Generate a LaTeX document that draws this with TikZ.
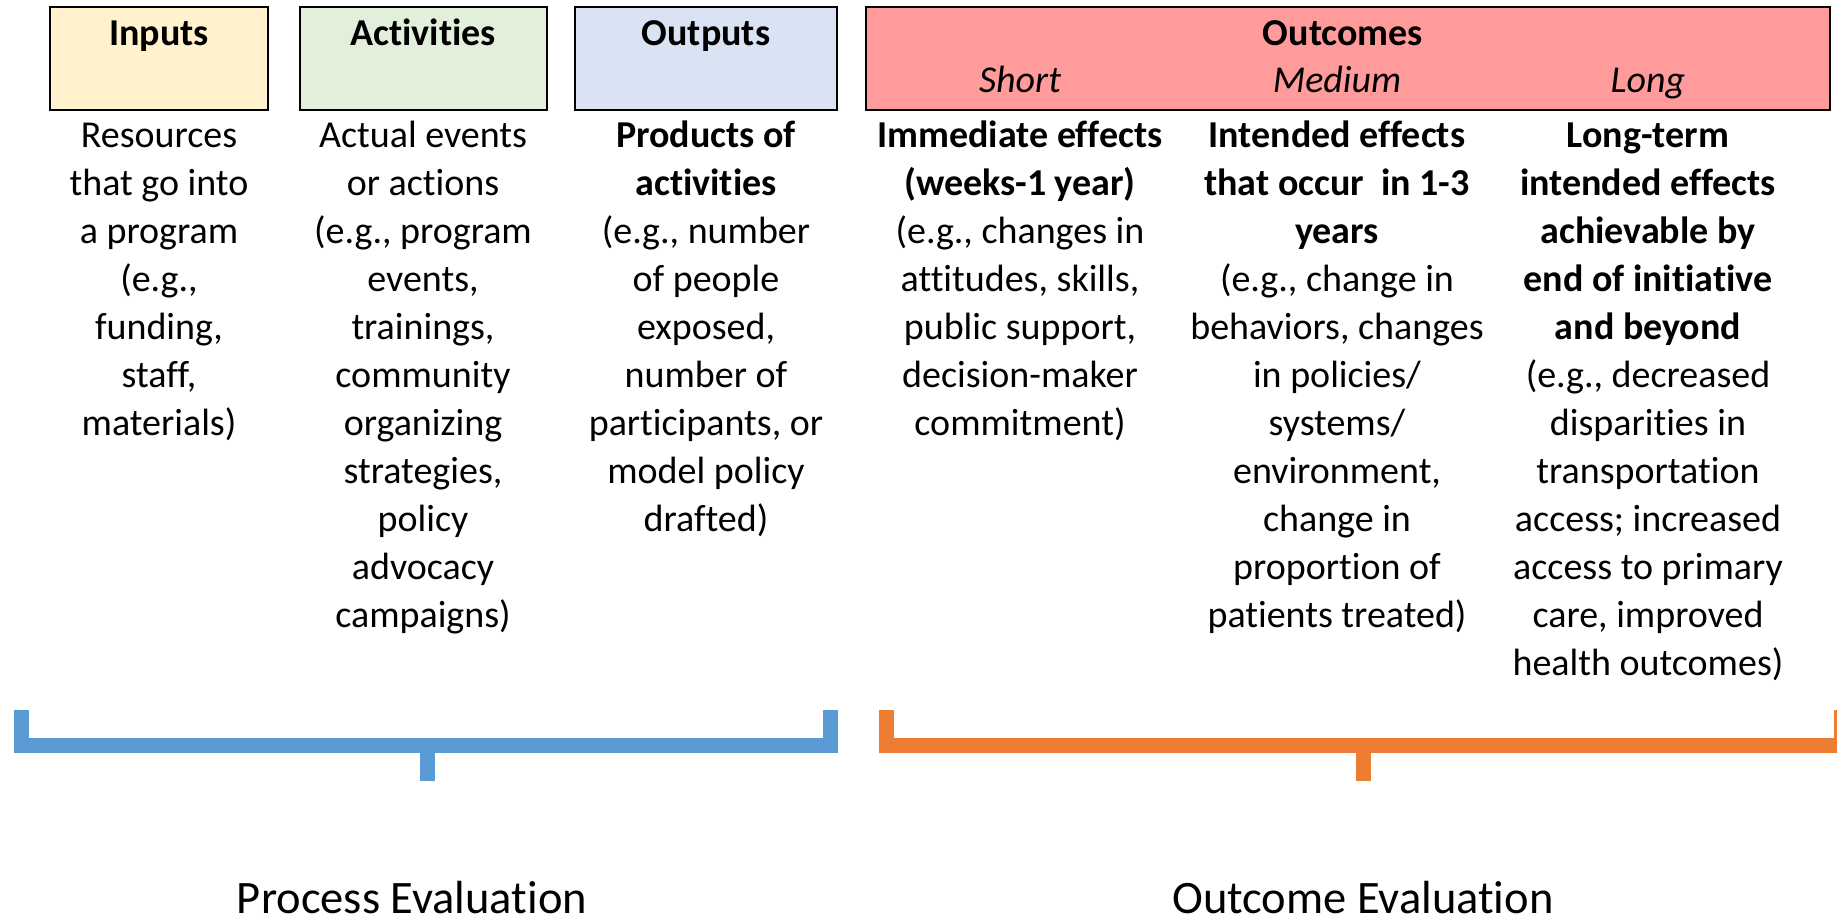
\documentclass[tikz,border=0pt]{standalone}
\usepackage{fontspec}
\setmainfont{Carlito}[Ligatures=NoCommon]
\definecolor{inYel}{HTML}{FFF2CC}
\definecolor{actGrn}{HTML}{E2EFDA}
\definecolor{outBlu}{HTML}{DAE3F3}
\definecolor{ocRed}{HTML}{FF9B9B}
\definecolor{brBlue}{HTML}{5B9BD5}
\definecolor{brOrange}{HTML}{ED7D31}
\newcommand\bodyfnt{\fontsize{38}{48}\selectfont}
\newcommand\evalfnt{\fontsize{46.5}{54}\selectfont}
\tikzset{
  hbox/.style={draw=black, line width=2pt},
  head/.style={font=\bodyfnt\bfseries, anchor=base, inner sep=0pt},
  sub/.style={font=\bodyfnt\itshape, anchor=base, inner sep=0pt},
  body/.style={font=\bodyfnt, align=center, anchor=north, inner sep=0pt},
  brace/.style={line width=15pt, miter limit=10},
  evallbl/.style={font=\evalfnt, anchor=base, inner sep=0pt}
}
\begin{document}
\begin{tikzpicture}[x=1pt,y=-1pt]
\useasboundingbox (0,0) rectangle (1837,919);
% header boxes
\filldraw[hbox, fill=inYel] (50,7) rectangle (268,110);
\filldraw[hbox, fill=actGrn] (300,7) rectangle (547,110);
\filldraw[hbox, fill=outBlu] (575,7) rectangle (837,110);
\filldraw[hbox, fill=ocRed] (866,7) rectangle (1830,110);
\node[head] (hin) at (159,45) {Inputs};
\node[head] (hact) at (423,45) {Activities};
\node[head] (hout) at (706,45) {Outputs};
\node[head] (hoc) at (1343,45) {Outcomes};
\node[sub] (sshort) at (1020,92) {Short};
\node[sub] (smed) at (1337,92) {Medium};
\node[sub] (slong) at (1648,92) {Long};
% body columns
\node[body] (bin) at (159,121) {Resources\vphantom{l}\\that go into\\a program\\(e.g.,\\funding,\\staff,\\materials)};
\node[body] (bact) at (423,121) {Actual events\\or actions\\(e.g., program\\events,\\trainings,\\community\\organizing\\strategies,\\policy\\advocacy\\campaigns)};
\node[body] (bout) at (706,121) {\textbf{Products of}\\\textbf{activities}\\(e.g., number\\of people\\exposed,\\number of\\participants, or\\model policy\\drafted)};
\node[body] (bshort) at (1020,121) {\textbf{Immediate effects}\\\textbf{(weeks-1 year)}\\(e.g., changes in\\attitudes, skills,\\public support,\\decision-maker\\commitment)};
\node[body] (bmed) at (1337,121) {\textbf{Intended effects}\\\textbf{that occur\ \ in 1-3}\\\textbf{years}\\(e.g., change in\\behaviors, changes\\in policies/\\systems/\\environment,\\change in\\proportion of\\patients treated)};
\node[body] (blong) at (1648,121) {\textbf{Long-term\vphantom{l}}\\\textbf{intended effects}\\\textbf{achievable by}\\\textbf{end of initiative}\\\textbf{and beyond}\\(e.g., decreased\\disparities in\\transportation\\access; increased\\access to primary\\care, improved\\health outcomes)};
% brackets
\draw[brace, brBlue] (21.5,710) -- (21.5,745.5) -- (830,745.5) -- (830,710);
\draw[brace, brBlue] (427,745) -- (427,781);
\draw[brace, brOrange] (886.5,710) -- (886.5,745.5) -- (1841,745.5) -- (1841,710);
\draw[brace, brOrange] (1363,745) -- (1363,781);
% labels
\node[evallbl] (pe) at (412,913) {Process Evaluation};
\node[evallbl] (oe) at (1363,913) {Outcome Evaluation};
\end{tikzpicture}
\end{document}
